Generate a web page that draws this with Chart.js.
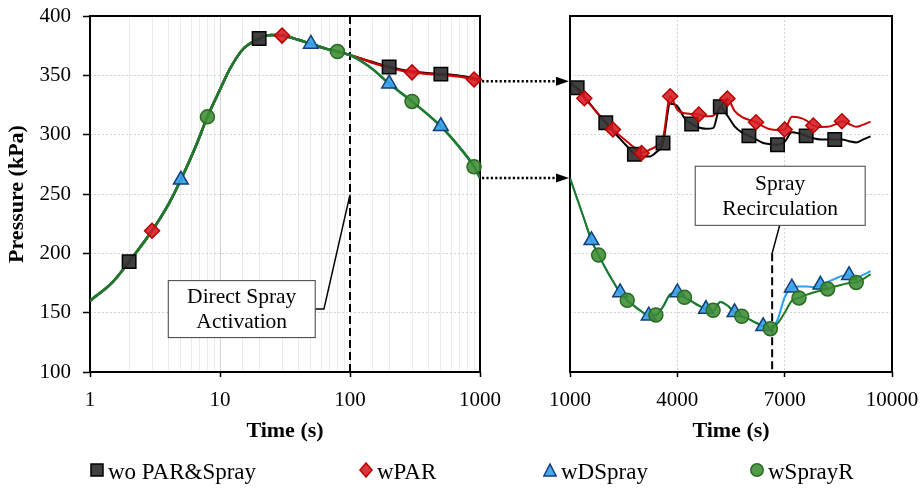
<!DOCTYPE html>
<html>
<head>
<meta charset="utf-8">
<script src="https://cdn.jsdelivr.net/npm/chart.js@4.4.1/dist/chart.umd.min.js"></script>
<style>
  html, body { margin: 0; padding: 0; background: #fff; }
  #wrap { position: relative; width: 921px; height: 488px; overflow: hidden;
          font-family: 'Liberation Serif', 'Times New Roman', serif; }
  #wrap canvas { position: absolute; left: 0; top: 0; }
  .leg { position: absolute; top: 458px; height: 28px; line-height: 28px; display: flex;
         align-items: center; font-size: 23px; color: #000; white-space: nowrap; }
  .leg svg { margin-right: 4px; position: relative; top: -2px; }
</style>
</head>
<body>
<div id="wrap">
  <canvas id="chart-left" width="921" height="488"></canvas>
  <canvas id="chart-right" width="921" height="488"></canvas>
  <div id="legend"></div>
</div>
<script>
const SERIES = ['wo PAR&Spray', 'wPAR', 'wDSpray', 'wSprayR'];

// ── left panel: log time 1 – 1000 s ─────────────
const tLeftEarly = [1, 1.5, 2, 3, 4, 5, 6.5, 8, 10, 12, 15, 20, 25, 30, 40, 50, 65, 80, 100];
const pLeftEarly = [160, 176, 193, 219, 241, 262, 290, 315, 338, 356, 372, 381, 384, 383.5, 380, 376.5, 372.5, 370, 367];
const tLeftLate  = [130, 150, 200, 300, 500, 700, 900, 1000];
const pLeftLate_woPAR    = [363, 361, 357, 353, 351, 349.5, 347.5, 346];
const pLeftLate_wPAR     = [363, 360.5, 356.5, 352.5, 350.5, 349, 346.5, 345];
const pLeftLate_wDSpray  = [360, 355, 343, 328, 307, 289, 273, 263.5];
const pLeftLate_wSprayR  = [360, 355, 343, 328, 307, 289, 273, 263.5];

const mLeft_woPAR   = [2, 20, 200, 500];
const mLeft_wPAR    = [3, 30, 300, 900];
const mLeft_wDSpray = [5, 50, 200, 500];
const mLeft_wSprayR = [8, 80, 300, 900];

// ── right panel: linear time 1000 – 10000 s ─────
const tRight = [1000, 1200, 1400, 1600, 1800, 2000, 2200, 2400, 2600, 2800, 3000, 3200, 3400, 3600, 3800,
                4000, 4200, 4400, 4600, 4800, 5000, 5200, 5400, 5600, 5800, 6000, 6200, 6400, 6600, 6800,
                7000, 7200, 7400, 7600, 7800, 8000, 8200, 8400, 8600, 8800, 9000, 9200, 9400];
const pRight_woPAR = [342, 339.5, 332, 324.5, 317, 310, 303, 296.5, 290, 283.5, 282, 281.5, 285, 293, 326,
                      324, 314, 309, 306, 305, 305.5, 323.5, 316, 307, 302, 299, 296, 293, 292, 291.5,
                      294, 302, 301, 299, 297, 296, 296, 296, 296, 294.5, 293.5, 296, 298.5];
const pRight_wPAR  = [345, 338, 330.7, 324, 317, 310.5, 304.3, 299, 294, 289, 284.6, 287, 290, 297, 332.4,
                      321, 318, 317.5, 317, 315.5, 316, 323, 330.4, 320, 315, 312.5, 310.5, 307, 304.5, 304,
                      304.3, 315, 314.5, 312, 307.7, 306.5, 306.6, 308.5, 311.3, 309, 306.6, 308.5, 311];
const pRight_wDSpray = [263.5, 246, 228.5, 211, 198.5, 187, 176.5, 167, 160.5, 155.5, 151, 147.5, 148, 155, 165.5,
                        167, 163, 159.5, 156, 153, 152, 159, 156, 150.3, 147, 144.5, 141.5, 138.5, 137, 144,
                        163, 171, 172, 172, 171.7, 173.5, 176, 178.5, 181, 181.5, 179.5, 182, 185];
const pRight_wSprayR = [263.5, 246, 228.5, 211, 198.5, 187, 176.5, 167, 160.5, 155.5, 151, 147.5, 148, 155, 165.5,
                        167, 163, 159.5, 156, 153, 152, 159, 156, 150.3, 147, 144.5, 141.5, 138.5, 136.5, 141,
                        150, 160, 162.4, 165, 167, 168.5, 170, 172, 173.6, 175, 175.5, 178.5, 182.5];

const mRight_woPAR   = [1200, 2000, 2800, 3600, 4400, 5200, 6000, 6800, 7600, 8400];
const mRight_wPAR    = [1400, 2200, 3000, 3800, 4600, 5400, 6200, 7000, 7800, 8600];
const mRight_wDSpray = [1600, 2400, 3200, 4000, 4800, 5600, 6400, 7200, 8000, 8800];
const mRight_wSprayR = [1800, 2600, 3400, 4200, 5000, 5800, 6600, 7400, 8200, 9000];

const xTicksLeft  = [1, 10, 100, 1000];
const DS_ACT_TIME = 100;    // direct spray activation
const SR_ACT_TIME = 6650;   // spray recirculation

// ── styles ─────────────────────────────────────
const LINE_COLORS  = ['#000000', '#cc0000', '#2aa0f5', '#1f7a1f'];
const FILL_COLORS  = ['rgba(48,48,48,0.92)', 'rgba(214,26,34,0.88)', 'rgba(58,160,236,0.92)', 'rgba(60,140,52,0.88)'];
const EDGE_COLORS  = ['#000000', '#b80000', '#123f78', '#2a6a22'];
const POINT_STYLES = ['rect', 'rectRot', 'triangle', 'circle'];
const POINT_RADII  = [9.5, 7.5, 8.5, 7];
const FONT = "'Liberation Serif', 'Times New Roman', serif";
const GRID = '#d4d4d4';

Chart.defaults.font.family = FONT;
Chart.defaults.color = '#000';
Chart.defaults.animation = false;

// fixed axis boxes so both panels share the same plot geometry
const fixHeight = h => s => { s.height = h; s.paddingLeft = 0; s.paddingRight = 0; };
const fixWidth  = w => s => { s.width = w; s.paddingTop = 0; s.paddingBottom = 0; };

function buildSets(times, values, marks, width) {
  const sets = [];
  SERIES.forEach((name, i) => {
    sets.push({
      label: name,
      data: times.map((t, k) => ({ x: t, y: values[i][k] })),
      borderColor: LINE_COLORS[i],
      borderWidth: width,
      pointRadius: 0,
      cubicInterpolationMode: 'monotone',
      order: 14 - i,
    });
  });
  SERIES.forEach((name, i) => {
    sets.push({
      label: name + ' marker',
      data: marks[i].map(t => ({ x: t, y: values[i][times.indexOf(t)] })),
      showLine: false,
      pointStyle: POINT_STYLES[i],
      pointRadius: POINT_RADII[i],
      pointBackgroundColor: FILL_COLORS[i],
      pointBorderColor: EDGE_COLORS[i],
      pointBorderWidth: 1.5,
      clip: false,
      order: 4 - i,
    });
  });
  return sets;
}

function callout(ctx, x0, y0, x1, y1, lines) {
  ctx.save();
  ctx.fillStyle = '#fff';
  ctx.fillRect(x0, y0, x1 - x0, y1 - y0);
  ctx.strokeStyle = '#404040';
  ctx.lineWidth = 1;
  ctx.strokeRect(x0, y0, x1 - x0, y1 - y0);
  ctx.fillStyle = '#000';
  ctx.font = '21.5px ' + FONT;
  ctx.textAlign = 'center';
  ctx.textBaseline = 'middle';
  const cx = (x0 + x1) / 2, cy = (y0 + y1) / 2 + 1;
  lines.forEach((s, k) => ctx.fillText(s, cx, cy + (k - (lines.length - 1) / 2) * 25));
  ctx.restore();
}

function polyline(ctx, pts, width, dash) {
  ctx.save();
  ctx.strokeStyle = '#000';
  ctx.lineWidth = width;
  ctx.setLineDash(dash || []);
  ctx.beginPath();
  pts.forEach((p, k) => k ? ctx.lineTo(p[0], p[1]) : ctx.moveTo(p[0], p[1]));
  ctx.stroke();
  ctx.restore();
}

function frame(ctx, a) {
  ctx.save();
  ctx.strokeStyle = '#000';
  ctx.lineWidth = 2;
  ctx.strokeRect(a.left, a.top, a.width, a.height);
  ctx.restore();
}

const isDecade = v => Math.abs(Math.log10(v) - Math.round(Math.log10(v))) < 1e-9;

const leftDecor = {
  id: 'leftDecor',
  beforeDatasetsDraw(chart) {
    const { ctx, chartArea: a, scales: { x } } = chart;
    const xa = x.getPixelForValue(DS_ACT_TIME);
    polyline(ctx, [[xa, a.top], [xa, a.bottom]], 2, [8, 4]);
    frame(ctx, a);
  },
  afterDatasetsDraw(chart) {
    const { ctx, scales: { x, y } } = chart;
    const x0 = x.getPixelForValue(4), x1 = x.getPixelForValue(54);
    const y0 = y.getPixelForValue(177), y1 = y.getPixelForValue(129);
    polyline(ctx, [[x1, y.getPixelForValue(153)], [x.getPixelForValue(63), y.getPixelForValue(153)],
                   [x.getPixelForValue(DS_ACT_TIME), y.getPixelForValue(249.5)]], 1.5);
    callout(ctx, x0, y0, x1, y1, ['Direct Spray', 'Activation']);
  }
};

const leftChart = new Chart(document.getElementById('chart-left'), {
  type: 'line',
  data: {
    datasets: buildSets(
      tLeftEarly.concat(tLeftLate),
      [pLeftEarly.concat(pLeftLate_woPAR), pLeftEarly.concat(pLeftLate_wPAR),
       pLeftEarly.concat(pLeftLate_wDSpray), pLeftEarly.concat(pLeftLate_wSprayR)],
      [mLeft_woPAR, mLeft_wPAR, mLeft_wDSpray, mLeft_wSprayR], 2.5)
  },
  options: {
    responsive: false,
    layout: { padding: { left: 0, right: 441, top: 16, bottom: 43 } },
    plugins: { legend: { display: false }, tooltip: { enabled: false } },
    scales: {
      x: {
        type: 'logarithmic', min: 1, max: 1000,
        afterFit: fixHeight(73),
        border: { display: false },
        grid: {
          color: c => isDecade(c.tick.value) ? GRID : '#ebebeb',
          lineWidth: 1,
          tickLength: 5, tickWidth: 1.5,
          tickColor: c => isDecade(c.tick.value) ? '#000' : 'rgba(0,0,0,0)',
        },
        ticks: {
          autoSkip: false, maxRotation: 0, padding: 11,
          font: { size: 21 },
          callback: v => xTicksLeft.includes(v) ? String(v) : '',
        },
        title: { display: true, text: 'Time (s)', font: { size: 22, weight: 'bold' }, padding: { top: 0, bottom: 0 } },
      },
      y: {
        min: 100, max: 400,
        afterFit: fixWidth(90),
        border: { display: false, dash: [2, 2] },
        grid: { color: GRID, lineWidth: 1, tickLength: 7, tickWidth: 1.5, tickColor: '#000' },
        ticks: { stepSize: 50, padding: 12, font: { size: 21 } },
        title: { display: true, text: 'Pressure (kPa)', font: { size: 22, weight: 'bold' }, padding: { top: 4, bottom: 0 } },
      }
    }
  },
  plugins: [leftDecor]
});

const rightDecor = {
  id: 'rightDecor',
  beforeDatasetsDraw(chart) {
    const { ctx, chartArea: a, scales: { x, y } } = chart;
    const xr = x.getPixelForValue(SR_ACT_TIME);
    polyline(ctx, [[xr, y.getPixelForValue(200)], [xr, a.bottom]], 2, [8, 4]);
    frame(ctx, a);
  },
  afterDatasetsDraw(chart) {
    const { ctx, scales: { x, y } } = chart;
    const y1 = y.getPixelForValue(223.6);
    polyline(ctx, [[x.getPixelForValue(6860), y1], [x.getPixelForValue(SR_ACT_TIME), y.getPixelForValue(200)]], 1.5);
    callout(ctx, x.getPixelForValue(4500), y.getPixelForValue(273.4), x.getPixelForValue(9250), y1,
            ['Spray', 'Recirculation']);
  },
  afterDraw(chart) {
    // dotted arrows linking the end of the left panel to the right panel
    const { ctx, chartArea: a, scales: { y } } = chart;
    const xs = leftChart.chartArea.right + 2, xt = a.left - 1;
    [pRight_wPAR[0], pRight_wSprayR[0]].forEach(v => {
      const py = y.getPixelForValue(v);
      polyline(ctx, [[xs, py], [xt - 12, py]], 2.5, [2.2, 2.2]);
      ctx.save();
      ctx.fillStyle = '#000';
      ctx.beginPath();
      ctx.moveTo(xt, py); ctx.lineTo(xt - 13, py - 4.5); ctx.lineTo(xt - 13, py + 4.5);
      ctx.closePath(); ctx.fill();
      ctx.restore();
    });
  }
};

const rightChart = new Chart(document.getElementById('chart-right'), {
  type: 'line',
  data: {
    datasets: buildSets(tRight,
      [pRight_woPAR, pRight_wPAR, pRight_wDSpray, pRight_wSprayR],
      [mRight_woPAR, mRight_wPAR, mRight_wDSpray, mRight_wSprayR], 2)
  },
  options: {
    responsive: false,
    layout: { padding: { left: 560, right: 29, top: 16, bottom: 43 } },
    plugins: { legend: { display: false }, tooltip: { enabled: false } },
    scales: {
      x: {
        type: 'linear', min: 1000, max: 10000,
        afterFit: fixHeight(73),
        border: { display: false, dash: [2, 2] },
        grid: { color: GRID, lineWidth: 1, tickLength: 5, tickWidth: 1.5, tickColor: '#000' },
        ticks: { stepSize: 3000, maxRotation: 0, padding: 11, font: { size: 21 }, callback: v => String(v) },
        title: { display: true, text: 'Time (s)', font: { size: 22, weight: 'bold' }, padding: { top: 0, bottom: 0 } },
      },
      y: {
        min: 100, max: 400,
        afterFit: fixWidth(10),
        border: { display: false, dash: [2, 2] },
        grid: { color: GRID, lineWidth: 1, drawTicks: false },
        ticks: { stepSize: 50, display: false },
      }
    }
  },
  plugins: [rightDecor]
});

// ── legend ─────────────────────────────────────
const LEGEND_X = [90, 359, 543, 750];
function markerSvg(i) {
  const f = `fill="${FILL_COLORS[i]}" stroke="${EDGE_COLORS[i]}" stroke-width="1.5"`;
  if (i === 0) return `<svg width="14" height="14"><rect x="1" y="1" width="12" height="12" ${f}/></svg>`;
  if (i === 1) return `<svg width="14" height="16"><polygon points="7,1 13,8 7,15 1,8" ${f}/></svg>`;
  if (i === 2) return `<svg width="14" height="14"><polygon points="7,1 13.2,13 0.8,13" ${f}/></svg>`;
  return `<svg width="14" height="14"><circle cx="7" cy="7" r="6.2" ${f}/></svg>`;
}
const escapeHtml = s => String(s).replace(/&/g, '&amp;').replace(/</g, '&lt;').replace(/>/g, '&gt;');
const legendBox = document.getElementById('legend');
SERIES.forEach((name, i) => {
  const item = document.createElement('div');
  item.className = 'leg';
  item.style.left = LEGEND_X[i] + 'px';
  item.innerHTML = markerSvg(i) + '<span>' + escapeHtml(name) + '</span>';
  legendBox.appendChild(item);
});
</script>
</body>
</html>
